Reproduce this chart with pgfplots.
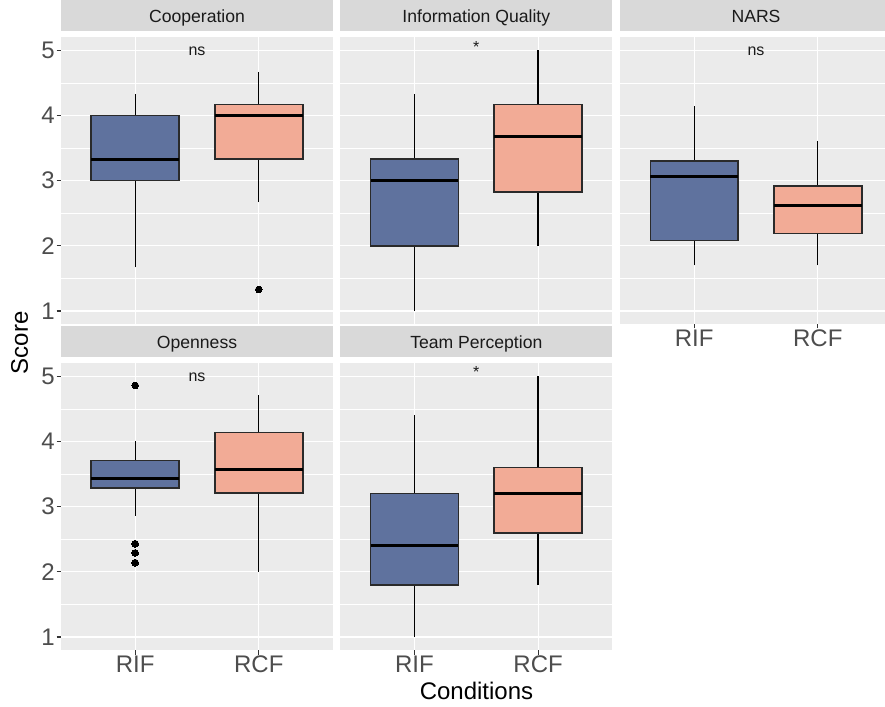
\documentclass[border=0pt]{standalone}
\usepackage{fontspec}
\setmainfont{Liberation Sans}
\usepackage{pgfplots}
\pgfplotsset{compat=1.18}
\usepgfplotslibrary{statistics}
\definecolor{panel}{HTML}{EBEBEB}
\definecolor{strip}{HTML}{D9D9D9}
\definecolor{labc}{HTML}{4D4D4D}
\definecolor{tickc}{HTML}{333333}
\definecolor{stript}{HTML}{1A1A1A}
\definecolor{boxc}{HTML}{2A2A2A}
\definecolor{rif}{HTML}{5F729E}
\definecolor{rcf}{HTML}{F2AB96}
\tikzset{sig/.style={font=\fontsize{16}{18}\selectfont, text=stript, inner sep=0pt}}
\pgfplotsset{
  facet/.style={
    scale only axis, width=272pt, height=286.7pt,
    anchor=south west,
    xmin=0.4, xmax=2.6, ymin=0.8, ymax=5.2,
    xtick={1,2}, xticklabels={RIF,RCF},
    ytick={1,2,3,4,5}, minor ytick={1.5,2.5,3.5,4.5},
    xmajorgrids, ymajorgrids, yminorgrids,
    major grid style={white, line width=1.1pt},
    minor grid style={white, line width=0.55pt},
    axis background/.style={fill=panel},
    axis line style={draw=none},
    tick align=outside, major tick length=4.5pt, minor tick length=0pt,
    tick style={color=tickc, line width=1.1pt},
    tick pos=left,
    tick label style={font=\fontsize{24}{28}\selectfont, text=labc, inner sep=1.5pt},
    /pgf/number format/assume math mode=true,
    title style={at={(0.5,1)}, anchor=south, yshift=0pt, fill=strip,
      minimum width=272pt, minimum height=30.8pt, inner sep=0pt,
      text height=12.7pt, text depth=0pt, text=stript,
      font=\fontsize{17.6}{20}\selectfont},
    boxplot/draw direction=y,
    boxplot/draw/median/.code={\draw[line width=3pt, black]
      (boxplot box cs:\pgfplotsboxplotvalue{median},0) --
      (boxplot box cs:\pgfplotsboxplotvalue{median},1);},
    boxplot/draw/lower whisker/.code={\draw[black, line width=1.3pt]
      (boxplot cs:\pgfplotsboxplotvalue{lower quartile}) --
      (boxplot cs:\pgfplotsboxplotvalue{lower whisker});},
    boxplot/draw/upper whisker/.code={\draw[black, line width=1.3pt]
      (boxplot cs:\pgfplotsboxplotvalue{upper quartile}) --
      (boxplot cs:\pgfplotsboxplotvalue{upper whisker});},
  },
  noy/.style={yticklabels={}, y tick style={draw=none}},
  nox/.style={xticklabels={}, x tick style={draw=none}},
  bstyle/.style={draw=boxc, line width=1.6pt, mark=*, mark size=3.4pt,
    mark options={fill=black, draw=black, line width=0pt, solid}},
}
\begin{document}
\begin{tikzpicture}
\useasboundingbox (0,0) rectangle (885pt,706pt);
% Cooperation
\begin{axis}[facet, nox, at={(61pt,382pt)}, title={Cooperation}]
\addplot[bstyle, fill=rif, boxplot prepared={draw position=1, lower whisker=1.67, lower quartile=3.0, median=3.33, upper quartile=4.0, upper whisker=4.33, box extend=0.71}] coordinates {};
\addplot[bstyle, fill=rcf, boxplot prepared={draw position=2, lower whisker=2.67, lower quartile=3.33, median=4.0, upper quartile=4.17, upper whisker=4.67, box extend=0.71}] coordinates {(2,1.33)};
\node[sig] at (axis cs:1.5,4.99) {ns};
\end{axis}
% Information Quality
\begin{axis}[facet, nox, noy, at={(340.3pt,382pt)}, title={Information Quality}]
\addplot[bstyle, fill=rif, boxplot prepared={draw position=1, lower whisker=1.0, lower quartile=2.0, median=3.0, upper quartile=3.33, upper whisker=4.33, box extend=0.71}] coordinates {};
\addplot[bstyle, fill=rcf, boxplot prepared={draw position=2, lower whisker=2.0, lower quartile=2.83, median=3.67, upper quartile=4.17, upper whisker=5.0, box extend=0.71}] coordinates {};
\node[sig] at (axis cs:1.5,5.05) {*};
\end{axis}
% NARS
\begin{axis}[facet, noy, at={(620pt,382pt)}, title={NARS}]
\addplot[bstyle, fill=rif, boxplot prepared={draw position=1, lower whisker=1.70, lower quartile=2.08, median=3.07, upper quartile=3.30, upper whisker=4.14, box extend=0.71}] coordinates {};
\addplot[bstyle, fill=rcf, boxplot prepared={draw position=2, lower whisker=1.70, lower quartile=2.19, median=2.62, upper quartile=2.92, upper whisker=3.61, box extend=0.71}] coordinates {};
\node[sig] at (axis cs:1.5,4.98) {ns};
\end{axis}
% Openness
\begin{axis}[facet, at={(61pt,56pt)}, title={Openness}]
\addplot[bstyle, fill=rif, boxplot prepared={draw position=1, lower whisker=2.86, lower quartile=3.29, median=3.43, upper quartile=3.71, upper whisker=4.0, box extend=0.71}] coordinates {(1,4.86) (1,2.43) (1,2.29) (1,2.14)};
\addplot[bstyle, fill=rcf, boxplot prepared={draw position=2, lower whisker=2.0, lower quartile=3.21, median=3.57, upper quartile=4.14, upper whisker=4.71, box extend=0.71}] coordinates {};
\node[sig] at (axis cs:1.5,4.99) {ns};
\end{axis}
% Team Perception
\begin{axis}[facet, noy, at={(340.3pt,56pt)}, title={Team Perception}]
\addplot[bstyle, fill=rif, boxplot prepared={draw position=1, lower whisker=1.0, lower quartile=1.8, median=2.4, upper quartile=3.2, upper whisker=4.4, box extend=0.71}] coordinates {};
\addplot[bstyle, fill=rcf, boxplot prepared={draw position=2, lower whisker=1.8, lower quartile=2.6, median=3.2, upper quartile=3.6, upper whisker=5.0, box extend=0.71}] coordinates {};
\node[sig] at (axis cs:1.5,5.06) {*};
\end{axis}
\node[anchor=base, font=\fontsize{24}{28}\selectfont, inner sep=0pt] at (476.5pt,7pt) {Conditions};
\node[anchor=base, rotate=90, font=\fontsize{24}{28}\selectfont, inner sep=0pt] at (28pt,363.2pt) {Score};
\end{tikzpicture}
\end{document}
